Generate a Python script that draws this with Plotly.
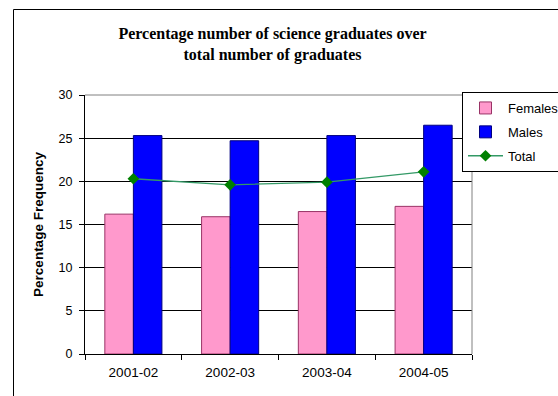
import plotly.graph_objects as go

# Share of science graduates among all graduates, by academic year
years = ["2001-02", "2002-03", "2003-04", "2004-05"]
females = [16.2, 15.9, 16.5, 17.1]
males = [25.3, 24.7, 25.3, 26.5]
total = [20.3, 19.6, 19.9, 21.1]

W, H = 558, 396
ML, MR, MT, MB = 85, 86, 95, 42
PW = W - ML - MR
PH = H - MT - MB


def px_x(px):
    return (px - ML) / PW


def px_y(py):
    return (H - MB - py) / PH


sans = "Arial, Liberation Sans, sans-serif"
serif = "Times New Roman, Liberation Serif, serif"

fig = go.Figure()
fig.add_trace(go.Bar(
    x=years, y=females, name="Females", legendgroup="f",
    marker=dict(color="#FF99CC", line=dict(color="#993366", width=1)),
))
fig.add_trace(go.Bar(
    x=years, y=males, name="Males", legendgroup="m",
    marker=dict(color="#0000FF", line=dict(color="#000080", width=1)),
))
fig.add_trace(go.Scatter(
    x=years, y=total, name="Total", legendgroup="t",
    mode="lines+markers",
    line=dict(color="#339966", width=1.3),
    marker=dict(symbol="diamond", size=9, color="#008000"),
))

fig.update_layout(
    width=W, height=H,
    margin=dict(l=ML, r=MR, t=MT, b=MB, autoexpand=False),
    paper_bgcolor="white", plot_bgcolor="white",
    barmode="group", bargap=0.41, bargroupgap=0,
    font=dict(family=sans, color="black", size=12),
    title=dict(
        text="<b>Percentage number of science graduates over<br>total number of graduates</b>",
        font=dict(family=serif, size=16, color="black"),
        x=272.5 / W, xref="container", xanchor="center",
        y=1 - 39 / H, yref="container", yanchor="middle",
    ),
    legend=dict(
        x=px_x(462), y=px_y(92), xanchor="left", yanchor="top",
        bordercolor="black", borderwidth=1, bgcolor="white",
        font=dict(family=sans, size=13, color="black"),
        traceorder="grouped", tracegroupgap=4, itemwidth=35,
    ),
    showlegend=True,
)

fig.update_xaxes(
    type="category", showgrid=False,
    showline=True, linecolor="black", linewidth=1,
    ticks="outside", tickson="boundaries", ticklen=5, tickcolor="black",
    tickfont=dict(family=sans, size=13.5, color="black"),
    ticklabelstandoff=6,
)
fig.update_yaxes(
    range=[0, 30], dtick=5, tick0=0,
    showgrid=True, gridcolor="black", gridwidth=1,
    zeroline=False,
    showline=True, linecolor="black", linewidth=1,
    ticks="outside", ticklen=5, tickcolor="black",
    tickfont=dict(family=sans, size=12.5, color="black"),
    ticklabelstandoff=4,
    title=dict(text="<b>Percentage Frequency</b>", standoff=11,
               font=dict(family=sans, size=13.5, color="black")),
)

# Plot-area border on the top and right edges
fig.add_shape(type="line", xref="paper", yref="paper", x0=0, x1=1, y0=1, y1=1,
              line=dict(color="#808080", width=1), layer="above")
fig.add_shape(type="line", xref="paper", yref="paper", x0=1, x1=1, y0=0, y1=1,
              line=dict(color="#808080", width=1), layer="above")

# Chart-area frame
fig.add_shape(type="rect", xref="paper", yref="paper",
              x0=px_x(13.5), x1=px_x(W + 20), y0=px_y(9.5), y1=px_y(H + 20),
              line=dict(color="black", width=1), fillcolor="rgba(0,0,0,0)",
              layer="below")

fig.write_html("out.html")
